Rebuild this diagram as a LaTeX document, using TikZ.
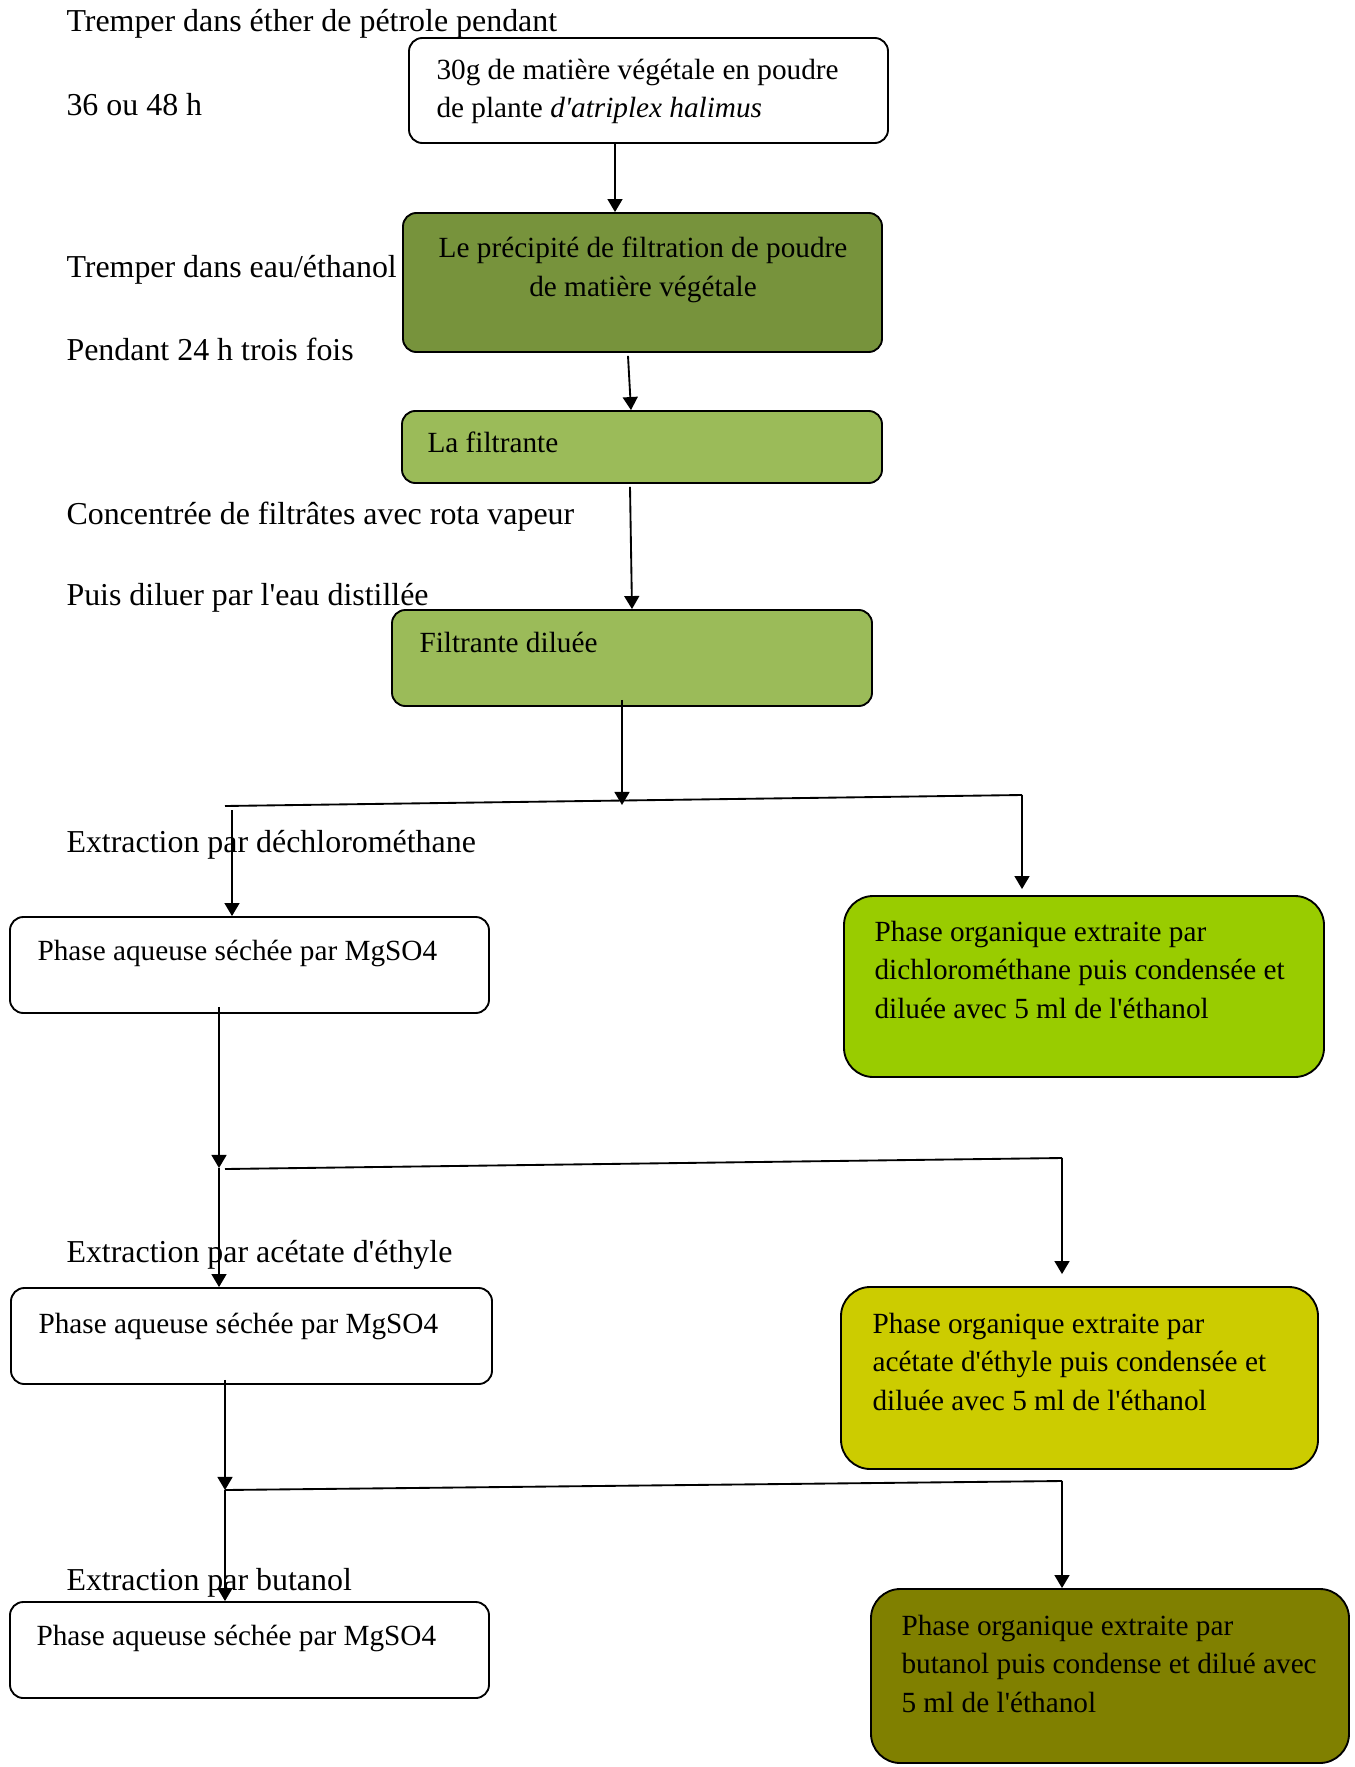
\documentclass[tikz,border=0pt]{standalone}
\usepackage{fontspec}
\setmainfont{Liberation Serif}
\usetikzlibrary{arrows.meta, positioning, calc}
\definecolor{olivedeep}{HTML}{77933C}
\definecolor{olivesoft}{HTML}{9BBB59}
\definecolor{limegreen}{HTML}{99CC00}
\definecolor{mustard}{HTML}{CCCC00}
\definecolor{oliveplain}{HTML}{808000}
\newcommand{\apo}{\textquotesingle}

\begin{document}
\begin{tikzpicture}[
    x=0.376pt, y=-0.376pt,
    box/.style={draw, rectangle, rounded corners=5pt, line width=0.7pt, inner sep=0pt},
    bigbox/.style={box, rounded corners=11pt},
    boxtext/.style={anchor=base west, inner sep=0pt, align=left, font=\fontsize{11}{14.3}\selectfont},
    steptext/.style={anchor=base west, inner sep=0pt, font=\fontsize{12}{14}\selectfont},
    arr/.style={-{Triangle[length=4.9pt,width=5.6pt]}, line width=0.7pt},
    link/.style={line width=0.7pt}
]
\useasboundingbox[fill=white] (0,0) rectangle (1354,1767);

% central column
\node[box, minimum width=479*0.376pt, minimum height=105*0.376pt] (b1) at (648.5,90.5) {};
\node[box, fill=olivedeep, minimum width=479*0.376pt, minimum height=139*0.376pt] (b2) at (642.5,282.5) {};
\node[box, fill=olivesoft, minimum width=480*0.376pt, minimum height=72*0.376pt] (b3) at (642,447) {};
\node[box, fill=olivesoft, minimum width=480*0.376pt, minimum height=96*0.376pt] (b4) at (632,658) {};

% (base anchor of a multi-line node = last line)
\node[boxtext] (b1txt) at (436,118) {30g de matière végétale en poudre\\de plante \textit{d\apo atriplex halimus}};
\node[boxtext, anchor=base, align=center] (b2txt) at (643,296) {Le précipité de filtration de poudre\\de matière végétale};
\node[boxtext] (b3txt) at (427,452) {La filtrante};
\node[boxtext] (b4txt) at (419,652) {Filtrante diluée};

% aqueous phases
\node[box, minimum width=479*0.376pt, minimum height=96*0.376pt] (aq1) at (249.5,965) {};
\node[box, minimum width=481*0.376pt, minimum height=96*0.376pt] (aq2) at (251.5,1336) {};
\node[box, minimum width=479*0.376pt, minimum height=96*0.376pt] (aq3) at (249.5,1650) {};
\node[boxtext] (aq1txt) at (37,960) {Phase aqueuse séchée par MgSO4};
\node[boxtext] (aq2txt) at (38,1333) {Phase aqueuse séchée par MgSO4};
\node[boxtext] (aq3txt) at (36,1645) {Phase aqueuse séchée par MgSO4};

% organic phases
\node[bigbox, fill=limegreen, minimum width=480*0.376pt, minimum height=181*0.376pt] (org1) at (1084,986.5) {};
\node[bigbox, fill=mustard, minimum width=477*0.376pt, minimum height=182*0.376pt] (org2) at (1079.5,1378) {};
\node[bigbox, fill=oliveplain, minimum width=478*0.376pt, minimum height=174*0.376pt] (org3) at (1110,1676) {};
\node[boxtext] (org1txt) at (874,1018) {Phase organique extraite par\\dichlorométhane puis condensée et\\diluée avec 5 ml de l\apo éthanol};
\node[boxtext] (org2txt) at (872,1410) {Phase organique extraite par\\acétate d\apo éthyle puis condensée et\\diluée avec 5 ml de l\apo éthanol};
\node[boxtext] (org3txt) at (901,1712) {Phase organique extraite par\\butanol puis condense et dilué avec\\5 ml de l\apo éthanol};

% step labels
\node[steptext] (l1) at (66,32) {Tremper dans éther de pétrole pendant};
\node[steptext] (l2) at (66,116) {36 ou 48 h};
\node[steptext] (l3) at (66,278) {Tremper dans eau/éthanol};
\node[steptext] (l4) at (66,360) {Pendant 24 h trois fois};
\node[steptext] (l5) at (66,524) {Concentrée de filtrâtes avec rota vapeur};
\node[steptext] (l6) at (66,605) {Puis diluer par l\apo eau distillée};
\node[steptext] (l7) at (66,852) {Extraction par déchlorométhane};
\node[steptext] (l8) at (66,1262) {Extraction par acétate d\apo éthyle};
\node[steptext] (l9) at (66,1590) {Extraction par butanol};

% split points
\coordinate (s1) at (622,805);
\coordinate (s1l) at (225,806);
\coordinate (s1r) at (1022,795);
\coordinate (s1d) at (232,810);
\coordinate (s2) at (219,1168);
\coordinate (s2l) at (225,1169);
\coordinate (s2r) at (1062,1158);
\coordinate (s3) at (225,1490);
\coordinate (s3r) at (1062,1481);

% connectors
\draw[arr] ($(b1.south)+(-33.5,0)$) -- ($(b2.north)+(-27.5,0)$);
\draw[arr] ($(b2.south)+(-14.5,3)$) -- ($(b3.north)+(-11,0)$);
\draw[arr] ($(b3.south)+(-12,3)$) -- (b4.north);
\draw[arr] ($(b4.south)+(-10,-7)$) -- (s1);
\draw[link] (s1l) -- (s1r);
\draw[arr] (s1r) -- ($(org1.north -| s1r)+(0,-6)$);
\draw[arr] (s1d) -- (aq1.north -| s1d);
\draw[arr] ($(aq1.south -| s2)+(0,-7)$) -- (s2);
\draw[link] (s2l) -- (s2r);
\draw[arr] (s2r) -- ($(org2.north -| s2r)+(0,-12)$);
\draw[arr] (s2) -- (aq2.north -| s2);
\draw[arr] ($(aq2.south -| s3)+(0,-5)$) -- (s3);
\draw[link] (s3) -- (s3r);
\draw[arr] (s3r) -- (org3.north -| s3r);
\draw[arr] (s3) -- (aq3.north -| s3);

\end{tikzpicture}
\end{document}
